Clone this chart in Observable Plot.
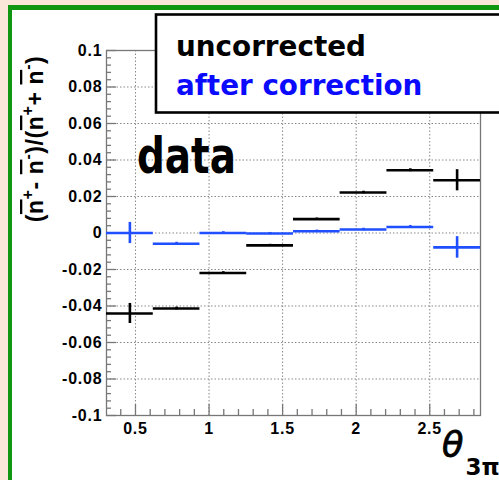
<!DOCTYPE html>
<html>
<head>
<meta charset="utf-8">
<script src="https://cdn.jsdelivr.net/npm/d3@7"></script>
<script src="https://cdn.jsdelivr.net/npm/@observablehq/plot@0.6"></script>
<style>
  html, body { margin: 0; padding: 0; width: 499px; height: 480px; overflow: hidden; background: #fbe7da; }
  #frame { position: absolute; left: 8px; top: 5px; width: 700px; height: 700px; box-sizing: border-box;
           border-left: 4px solid #119611; border-top: 5px solid #119611; background: #fff; }
  #chart { position: absolute; left: 0; top: 0; }
  #chart svg text { letter-spacing: 0.8px; }
</style>
</head>
<body>
<div id="frame"></div>
<div id="chart"></div>
<script>
// ---- data ----
const binLo = [0.303, 0.621, 0.938, 1.256, 1.574, 1.891, 2.209, 2.527];
const binHi = [0.621, 0.938, 1.256, 1.574, 1.891, 2.209, 2.527, 2.845];
const uncorrected    = [-0.0441, -0.0414, -0.0219, -0.0068, 0.0076, 0.0222, 0.0344, 0.0289];
const uncorrectedErr = [0.0055, 0.0008, 0.0007, 0.0006, 0.0006, 0.0007, 0.0008, 0.0058];
const corrected      = [0.0, -0.0059, 0.0, -0.0003, 0.0010, 0.0019, 0.0033, -0.0079];
const correctedErr   = [0.0058, 0.0008, 0.0007, 0.0006, 0.0006, 0.0007, 0.0008, 0.0059];
const xMajor = [0.5, 1, 1.5, 2, 2.5];
const xMinor = [0.4, 0.6, 0.7, 0.8, 0.9, 1.1, 1.2, 1.3, 1.4, 1.6, 1.7, 1.8, 1.9, 2.1, 2.2, 2.3, 2.4, 2.6, 2.7, 2.8];
const yMajor = [-0.1, -0.08, -0.06, -0.04, -0.02, 0, 0.02, 0.04, 0.06, 0.08, 0.1];
const yMinor = d3.range(-100, 101, 4).filter(v => v % 20 !== 0).map(v => v / 1000);
const yGrid = [-0.08, -0.06, -0.04, -0.02, 0, 0.02, 0.04, 0.06, 0.08];
const legendLabels = ["uncorrected", "after correction"];

const xDomain = [0.303, 2.845];
const yDomain = [-0.1, 0.1];
const colUnc = "#000000";
const colCor = "#1f4fff";

const mkRows = (vals, errs) => binLo.map((lo, i) => ({
  lo, hi: binHi[i], mid: (lo + binHi[i]) / 2, v: vals[i], lo_e: vals[i] - errs[i], hi_e: vals[i] + errs[i]
}));
const rowsUnc = mkRows(uncorrected, uncorrectedErr);
const rowsCor = mkRows(corrected, correctedErr);

// tick lengths in data units (plot area: 374px wide, 365px tall)
const xPerPx = (xDomain[1] - xDomain[0]) / 374;
const yPerPx = (yDomain[1] - yDomain[0]) / 365;

const fmt = d => String(+d.toFixed(2));

const chart = Plot.plot({
  width: 499, height: 480,
  marginLeft: 106, marginRight: 19, marginTop: 50, marginBottom: 65,
  x: {domain: xDomain},
  y: {domain: yDomain},
  style: {background: "transparent", overflow: "visible", fontFamily: "'Liberation Sans', Arial, sans-serif", fontWeight: "bold", fontSize: "16px", color: "#000"},
  marks: [
    Plot.gridX({ticks: xMajor, stroke: "#888", strokeOpacity: 1, strokeDasharray: "1.5,2", strokeWidth: 1}),
    Plot.gridY({ticks: yGrid, stroke: "#888", strokeOpacity: 1, strokeDasharray: "1.5,2", strokeWidth: 1}),
    Plot.frame({stroke: "#777", strokeWidth: 1.3}),
    // ticks (inside)
    Plot.ruleX(xMajor, {x: d => d, y1: yDomain[0], y2: yDomain[0] + 11 * yPerPx, stroke: "#777", strokeWidth: 1.3}),
    Plot.ruleX(xMinor, {x: d => d, y1: yDomain[0], y2: yDomain[0] + 6 * yPerPx, stroke: "#777", strokeWidth: 1.3}),
    Plot.ruleY(yMajor, {y: d => d, x1: xDomain[0], x2: xDomain[0] + 10 * xPerPx, stroke: "#777", strokeWidth: 1.3}),
    Plot.ruleY(yMinor, {y: d => d, x1: xDomain[0], x2: xDomain[0] + 5 * xPerPx, stroke: "#777", strokeWidth: 1.3}),
    // uncorrected
    Plot.ruleY(rowsUnc, {y: "v", x1: "lo", x2: "hi", stroke: colUnc, strokeWidth: 2.6}),
    Plot.ruleX(rowsUnc, {x: "mid", y1: "lo_e", y2: "hi_e", stroke: colUnc, strokeWidth: 2.6}),
    // after correction
    Plot.ruleY(rowsCor, {y: "v", x1: "lo", x2: "hi", stroke: colCor, strokeWidth: 2.6}),
    Plot.ruleX(rowsCor, {x: "mid", y1: "lo_e", y2: "hi_e", stroke: colCor, strokeWidth: 2.6}),
    // axes labels
    Plot.axisX({ticks: xMajor, tickSize: 0, tickPadding: 7, tickFormat: fmt, label: null}),
    Plot.axisY({ticks: yMajor, tickSize: 0, tickPadding: 4, tickFormat: fmt, label: null})
  ]
});
document.getElementById("chart").appendChild(chart);

const svg = d3.select(chart);

// "data" annotation
svg.append("text")
  .attr("x", 137).attr("y", 173).attr("text-anchor", "start")
  .attr("font-family", "'DejaVu Sans', sans-serif").attr("font-weight", "bold").attr("font-size", 50)
  .attr("textLength", 99).attr("lengthAdjust", "spacingAndGlyphs")
  .style("letter-spacing", "0px")
  .text("data");

// legend box
svg.append("rect")
  .attr("x", 156).attr("y", 14.5).attr("width", 400).attr("height", 98)
  .attr("fill", "#fff").attr("stroke", "#000").attr("stroke-width", 2.6);
const legColors = ["#000", "#0a0aff"];
const legY = [56, 95];
legendLabels.forEach((t, i) => {
  svg.append("text")
    .attr("x", 176).attr("y", legY[i]).attr("text-anchor", "start")
    .attr("font-family", "'DejaVu Sans', sans-serif").attr("font-weight", "bold").attr("font-size", 27.8)
    .attr("fill", legColors[i]).style("letter-spacing", "0px")
    .text(t);
});

// y axis title
const yt = svg.append("text")
  .attr("transform", "translate(43,139) rotate(-90)")
  .attr("text-anchor", "middle")
  .attr("font-family", "'Liberation Sans', Arial, sans-serif").attr("font-weight", "bold").attr("font-size", 23)
  .style("letter-spacing", "0.6px");
const parts = [
  ["(", 0], ["n", "bar"], ["+", "sup"], ["- ", 0], ["n", "bar"], ["-", "sup"], [")/(", 0],
  ["n", "bar"], ["+", "sup"], ["+ ", 0], ["n", "bar"], ["-", "sup"], [")", 0]
];
let shifted = false;
parts.forEach(([t, kind]) => {
  const ts = yt.append("tspan").text(t);
  if (kind === "sup") { ts.attr("dy", -10).attr("font-size", 16); shifted = true; }
  else { if (shifted) { ts.attr("dy", 10); shifted = false; } }
  if (kind === "bar") ts.style("text-decoration", "overline");
});

// x axis title
const xt = svg.append("text")
  .attr("x", 442).attr("y", 457).attr("text-anchor", "start")
  .attr("font-family", "'DejaVu Sans', sans-serif").style("letter-spacing", "0px");
xt.append("tspan").attr("font-size", 35).attr("font-weight", "normal").attr("font-style", "italic")
  .attr("stroke", "#000").attr("stroke-width", 0.8).text("θ");
xt.append("tspan").attr("font-size", 23).attr("font-weight", "bold").attr("dx", 2).attr("dy", 18).text("3π");
</script>
</body>
</html>
